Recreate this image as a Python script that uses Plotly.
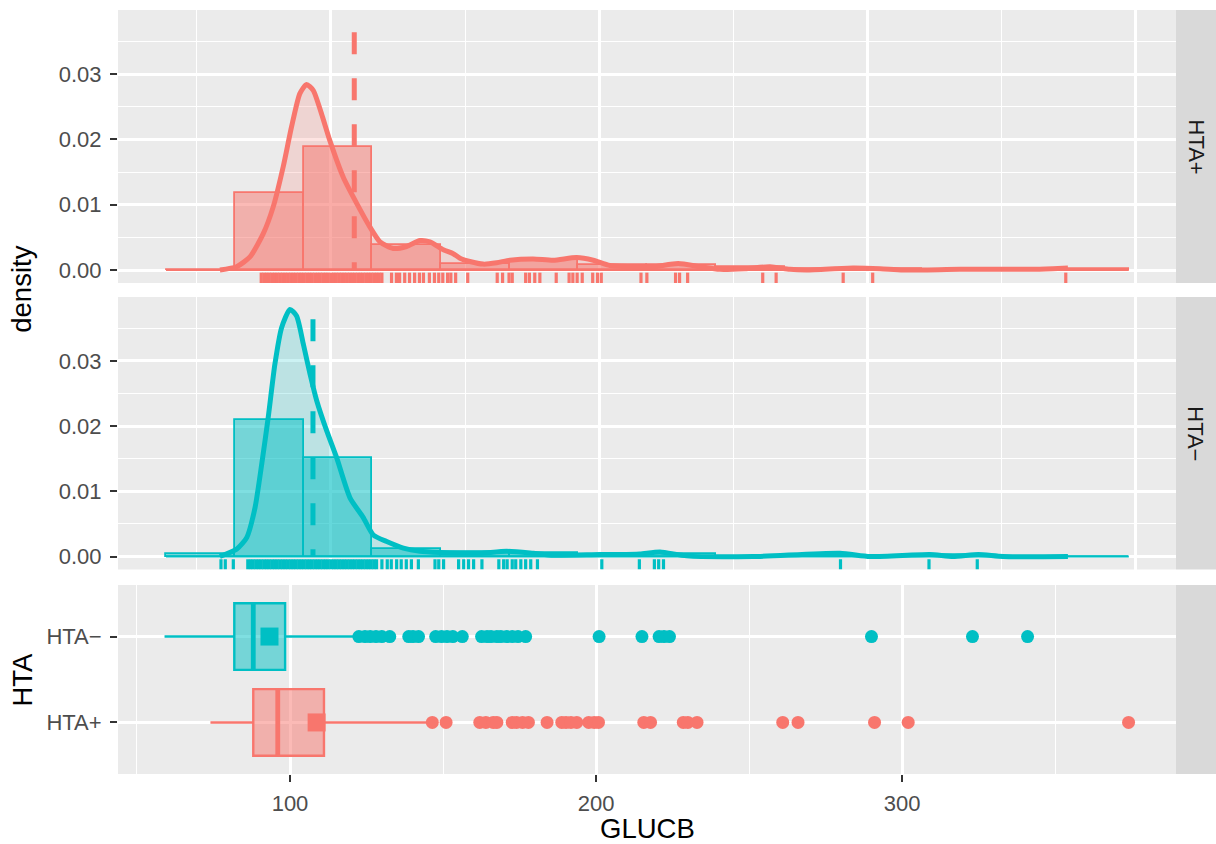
import plotly.graph_objects as go

# ---------------------------------------------------------------- data --
group_labels = ["HTA+", "HTA\u2212"]
group_colors = ["#F8766D", "#00BFC4"]

# histogram (density scale): shared bin edges, one height per bin
bin_edges = [38.5, 64.1, 89.8, 115.4, 141.1, 166.7, 192.3, 218.0, 243.6,
             269.3, 294.9, 320.5, 346.2, 371.8, 397.5]
hist_pos = [0.0, 0.01186, 0.01882, 0.00382, 0.00095, 0.0015, 0.0008,
            0.0008, 0.0004, 0.0002, 0.0002, 0.0, 0.0, 0.0002]
hist_neg = [0.00035, 0.0210, 0.01516, 0.00118, 0.0007, 0.0006, 0.00024,
            0.00035, 0.0, 0.00012, 0.0, 0.00024, 0.0, 0.0]

# kernel density curves
dens_pos_x = [58.6, 64.8, 69.8, 74.8, 78.5, 82.2, 85.3, 88.4, 90.9, 93.4,
              96.5, 99.6, 104.6, 109.6, 114.5, 118.3, 123.2, 128.2, 133.2,
              136.9, 141.9, 145.6, 148.1, 151.8, 156.8, 161.8, 166.7, 175.4,
              182.9, 191.6, 197.8, 204.0, 215.2, 220.2, 229.5, 237.6, 245.0,
              254.4, 263.7, 271.1, 277.4, 294.6, 304.7, 313.3, 334.5, 360.6,
              369.2, 374.8]
dens_pos_y = [0.0, 0.0005, 0.002, 0.0056, 0.0097, 0.0158, 0.0219, 0.0270,
              0.0284, 0.0275, 0.0239, 0.0198, 0.0142, 0.0102, 0.0066, 0.0043,
              0.0033, 0.0036, 0.0045, 0.0043, 0.0031, 0.0025, 0.0018, 0.0013,
              0.0009, 0.0011, 0.0015, 0.0017, 0.0015, 0.0019, 0.0015, 0.0007,
              0.0005, 0.0005, 0.0010, 0.0005, 0.0001, 0.0002, 0.0005, 0.0001,
              0.0, 0.0003, 0.0002, 0.0, 0.0001, 0.0001, 0.0002, 0.0003]
dens_neg_x = [58.6, 64.8, 68.6, 71.7, 74.2, 76.6, 79.1, 81.6, 84.7, 87.2,
              89.7, 92.2, 94.7, 98.4, 102.1, 107.1, 112.0, 115.8, 120.8,
              127.0, 133.2, 140.6, 148.1, 155.6, 165.5, 175.4, 182.9, 200.3,
              207.8, 215.2, 222.7, 232.6, 257.3, 289.8, 301.0, 323.3, 331.9,
              341.4, 350.6, 374.8]
dens_neg_y = [0.0, 0.0011, 0.0029, 0.0075, 0.0142, 0.0213, 0.0295, 0.0351,
              0.0379, 0.0369, 0.0326, 0.0280, 0.0239, 0.0193, 0.0152, 0.0090,
              0.0060, 0.0033, 0.0023, 0.0013, 0.0008, 0.0006, 0.0005, 0.0005,
              0.0008, 0.0005, 0.0002, 0.0003, 0.0003, 0.0004, 0.0007, 0.0001,
              0.0, 0.0005, 0.0, 0.0003, 0.0, 0.0003, 0.0, 0.0]

# group means (dashed reference lines and box-plot squares)
mean_pos, mean_neg = 108.7, 93.3
mean_line_top = 0.0364

# individual GLUCB observations (rug + box-plot outliers)
obs_pos = [74, 75, 76, 77, 78, 79, 80, 81, 82, 83, 84, 85, 86, 87, 88, 89,
           90, 91, 92, 93, 94, 95, 96, 97, 98, 99, 100, 101, 102, 103, 104,
           105, 106, 107, 108, 109, 110, 111, 112, 113, 114, 115, 116, 117,
           118, 119, 122.6, 124.4, 125.6, 127.5, 129.3, 131.2, 133.0, 134.5,
           136.7, 138.6, 140.2, 141.7, 143.5, 144.7, 146.5, 151.0, 162.0,
           164.0, 166.4, 167.6, 172.6, 174.0, 176.0, 177.9, 184.0, 188.8,
           190.2, 191.8, 193.7, 197.6, 199.4, 200.8, 215.6, 217.8, 228.5,
           230.0, 233.0, 261.0, 266.0, 291.0, 302.0, 374.0]
obs_neg = [59, 60.6, 63.6, 69, 70, 71, 72, 73, 74, 75, 76, 77, 78, 79, 80,
           81, 82, 83, 84, 85, 86, 87, 88, 89, 90, 91, 92, 93, 94, 95, 96, 97,
           98, 99, 100, 101, 102, 103, 104, 105, 106, 107, 108, 109, 110, 111,
           112, 113, 114, 115, 116, 117, 119, 121, 122.5, 124.5, 126.2, 128.1,
           130.0, 132.6, 138.8, 140.2, 142.0, 147.6, 149.5, 151.3, 153.2,
           156.3, 162.6, 164.4, 165.7, 167.6, 168.9, 170.8, 172.6, 174.5,
           177.0, 201.0, 215.0, 220.6, 222.2, 224.0, 290.0, 323.0, 341.0]

# box-plot five-number summaries: lower whisker, Q1, median, Q3, upper whisker
box_pos = [74.0, 88.0, 96.0, 111.1, 144.7]
box_neg = [59.0, 81.8, 88.0, 98.4, 121.0]

density_ticks = [0.0, 0.01, 0.02, 0.03]
glucb_ticks = [100, 200, 300]

# ------------------------------------------------------------ geometry --
W, H = 1216, 844
PANEL_L, PANEL_R = 118, 1176
ROWS = [(10, 283), (297, 569.5), (585, 774)]
STRIP_R = 1216

def fx(p):
    return p / W

def fy(p):
    return 1 - p / H

def rgba(hex_color, a):
    h = hex_color.lstrip("#")
    r, g, b = int(h[0:2], 16), int(h[2:4], 16), int(h[4:6], 16)
    return f"rgba({r},{g},{b},{a})"

DENS_RANGE = [-0.00199, 0.0398]
HIST_X_RANGE = [20.6, 415.1]
BOX_X_RANGE = [43.8, 389.5]
RUG_TOP = -0.00040

TICK_FONT = dict(family="Liberation Sans, Arial, sans-serif", size=22, color="#4D4D4D")
TITLE_FONT = dict(family="Liberation Sans, Arial, sans-serif", size=27.5, color="#000000")
STRIP_FONT = dict(family="Liberation Sans, Arial, sans-serif", size=22, color="#1A1A1A")

fig = go.Figure()

facets = [
    (obs_pos, hist_pos, dens_pos_x, dens_pos_y, mean_pos, group_colors[0], "x", "y"),
    (obs_neg, hist_neg, dens_neg_x, dens_neg_y, mean_neg, group_colors[1], "x2", "y2"),
]

centers = [(a + b) / 2 for a, b in zip(bin_edges[:-1], bin_edges[1:])]
widths = [b - a for a, b in zip(bin_edges[:-1], bin_edges[1:])]

for obs, hist, dx, dy, mean_v, col, xa, ya in facets:
    # shaded area under the density curve
    fig.add_trace(go.Scatter(
        x=dx, y=dy, mode="lines", fill="tozeroy", fillcolor=rgba(col, 0.2),
        line=dict(width=0, shape="spline", smoothing=0.6),
        xaxis=xa, yaxis=ya, hoverinfo="skip"))
    # empty bins collapse onto the baseline
    fig.add_trace(go.Scatter(
        x=[bin_edges[0], bin_edges[-1]], y=[0, 0], mode="lines",
        line=dict(color=col, width=1.8), xaxis=xa, yaxis=ya, hoverinfo="skip"))
    # histogram bars
    fig.add_trace(go.Bar(
        x=centers, y=hist, width=widths,
        marker=dict(color=rgba(col, 0.5), line=dict(color=col, width=1.8)),
        xaxis=xa, yaxis=ya, hoverinfo="skip"))
    # density outline
    fig.add_trace(go.Scatter(
        x=dx, y=dy, mode="lines",
        line=dict(color=col, width=5, shape="spline", smoothing=0.6),
        xaxis=xa, yaxis=ya, hoverinfo="skip"))
    # group mean
    fig.add_trace(go.Scatter(
        x=[mean_v, mean_v], y=[mean_line_top, 0], mode="lines",
        line=dict(color=col, width=5, dash="22px,24px"),
        xaxis=xa, yaxis=ya, hoverinfo="skip"))
    # rug
    rx, ry = [], []
    for v in obs:
        rx += [v, v, None]
        ry += [DENS_RANGE[0], RUG_TOP, None]
    fig.add_trace(go.Scatter(
        x=rx, y=ry, mode="lines", line=dict(color=col, width=3.2),
        xaxis=xa, yaxis=ya, hoverinfo="skip"))

# --- box plots (HTA+ at 1, HTA- at 2)
BOX_W = 0.775
for row, (obs, stats, mean_v, col) in enumerate(
        [(obs_pos, box_pos, mean_pos, group_colors[0]),
         (obs_neg, box_neg, mean_neg, group_colors[1])], start=1):
    lo, q1, med, q3, hi = stats
    fig.add_trace(go.Box(
        y=[row], q1=[q1], median=[med], q3=[q3], lowerfence=[lo], upperfence=[hi],
        orientation="h", width=BOX_W, whiskerwidth=0, boxpoints=False,
        fillcolor=rgba(col, 0.5), line=dict(color=col, width=2.4),
        xaxis="x3", yaxis="y3", hoverinfo="skip"))
    fig.add_trace(go.Scatter(
        x=[med, med], y=[row - BOX_W / 2, row + BOX_W / 2], mode="lines",
        line=dict(color=col, width=4.8), xaxis="x3", yaxis="y3", hoverinfo="skip"))
    outliers = [v for v in obs if v < lo or v > hi]
    fig.add_trace(go.Scatter(
        x=outliers, y=[row] * len(outliers), mode="markers",
        marker=dict(color=col, size=13, line=dict(width=0)),
        xaxis="x3", yaxis="y3", hoverinfo="skip"))
    fig.add_trace(go.Scatter(
        x=[mean_v], y=[row], mode="markers",
        marker=dict(color=col, size=18, symbol="square", line=dict(width=0)),
        xaxis="x3", yaxis="y3", hoverinfo="skip"))

# ------------------------------------------------------------- layout --
x_dom = [fx(PANEL_L), fx(PANEL_R)]

def y_dom(r):
    top, bot = ROWS[r]
    return [fy(bot), fy(top)]

grid_common = dict(showgrid=True, gridcolor="#FFFFFF", gridwidth=2.7,
                   zeroline=False, showline=False)

facet_x = dict(domain=x_dom, range=HIST_X_RANGE, tickvals=[100, 200, 300, 400],
               showticklabels=False, ticks="",
               minor=dict(tickvals=[50, 150, 250, 350], showgrid=True,
                          gridcolor="#FFFFFF", gridwidth=1.35, ticks=""),
               **grid_common)
facet_y = dict(range=DENS_RANGE, tickvals=density_ticks,
               ticktext=[f"{v:.2f}" for v in density_ticks],
               ticks="outside", ticklen=7, tickwidth=2.2, tickcolor="#333333",
               tickfont=TICK_FONT, ticklabelstandoff=4,
               minor=dict(tickvals=[0.005, 0.015, 0.025, 0.035], showgrid=True,
                          gridcolor="#FFFFFF", gridwidth=1.35, ticks=""),
               **grid_common)

fig.update_layout(
    width=W, height=H, margin=dict(l=0, r=0, t=0, b=0),
    paper_bgcolor="#FFFFFF", plot_bgcolor="#EBEBEB",
    showlegend=False, barmode="overlay", bargap=0,
    xaxis=dict(anchor="y", **facet_x),
    yaxis=dict(anchor="x", domain=y_dom(0), **facet_y),
    xaxis2=dict(anchor="y2", **facet_x),
    yaxis2=dict(anchor="x2", domain=y_dom(1), **facet_y),
    xaxis3=dict(anchor="y3", domain=x_dom, range=BOX_X_RANGE,
                tickvals=glucb_ticks, ticktext=[str(v) for v in glucb_ticks],
                ticks="outside", ticklen=7, tickwidth=2.2, tickcolor="#333333",
                tickfont=TICK_FONT, ticklabelstandoff=3,
                minor=dict(tickvals=[50, 150, 250, 350], showgrid=True,
                           gridcolor="#FFFFFF", gridwidth=1.35, ticks=""),
                **grid_common),
    yaxis3=dict(anchor="x3", domain=y_dom(2), range=[0.4, 2.6],
                tickvals=[1, 2], ticktext=group_labels,
                ticks="outside", ticklen=7, tickwidth=2.2, tickcolor="#333333",
                tickfont=TICK_FONT, ticklabelstandoff=4, **grid_common),
)

# facet strips on the right
shapes = []
for top, bot in ROWS:
    shapes.append(dict(type="rect", xref="paper", yref="paper",
                       x0=fx(PANEL_R), x1=fx(STRIP_R), y0=fy(bot), y1=fy(top),
                       fillcolor="#D9D9D9", line=dict(width=0), layer="below"))
fig.update_layout(shapes=shapes)

annotations = []
for (top, bot), label in zip(ROWS[:2], group_labels):
    annotations.append(dict(text=label, x=fx((PANEL_R + STRIP_R) / 2),
                            y=fy((top + bot) / 2), xref="paper", yref="paper",
                            showarrow=False, textangle=90, font=STRIP_FONT,
                            xanchor="center", yanchor="middle"))
annotations.append(dict(text="density", x=fx(22), y=fy((ROWS[0][0] + ROWS[1][1]) / 2),
                        xref="paper", yref="paper", showarrow=False, textangle=-90,
                        font=TITLE_FONT, xanchor="center", yanchor="middle"))
annotations.append(dict(text="HTA", x=fx(22), y=fy((ROWS[2][0] + ROWS[2][1]) / 2),
                        xref="paper", yref="paper", showarrow=False, textangle=-90,
                        font=TITLE_FONT, xanchor="center", yanchor="middle"))
annotations.append(dict(text="GLUCB", x=fx((PANEL_L + PANEL_R) / 2), y=fy(828),
                        xref="paper", yref="paper", showarrow=False,
                        font=TITLE_FONT, xanchor="center", yanchor="middle"))
fig.update_layout(annotations=annotations)

fig.write_html("out.html")
